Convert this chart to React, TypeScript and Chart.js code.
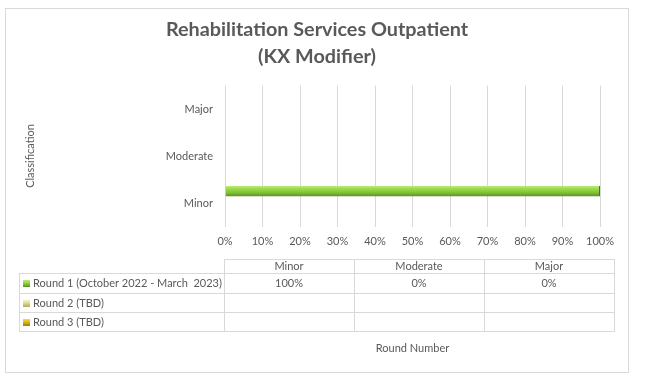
import React, { useEffect, useRef } from 'react';
import { Chart, registerables } from 'chart.js';

Chart.register(...registerables);

// ---------- data ----------
const categories = ['Minor', 'Moderate', 'Major'];
const seriesNames = ['Round 1 (October 2022 - March  2023)', 'Round 2 (TBD)', 'Round 3 (TBD)'];
const round1: (number | null)[] = [100, 0, 0];
const round2: (number | null)[] = [null, null, null];
const round3: (number | null)[] = [null, null, null];
const xTickValues = [0, 10, 20, 30, 40, 50, 60, 70, 80, 90, 100];
const titleLines = ['Rehabilitation Services Outpatient', '(KX Modifier)'];
const yTitle = 'Classification';
const xTitle = 'Round Number';

// ---------- styles ----------
const TEXT = '#595959';
const GRID = '#d9d9d9';
const FONT = 'Lato';
const CAT_PCT = 0.745;
const BAR_PCT = 0.9;
const seriesStops = [
  ['#b8ec74', '#98d848', '#7fbf35', '#5a8c22'],
  ['#f4f2c0', '#e6e2a0', '#d6d07c', '#b8b05a'],
  ['#f8dc60', '#e8c020', '#d2a800', '#a88400'],
];
const seriesBase = ['#8cc63f', '#e0dc8c', '#d4a800'];

const W = 646;
const H = 390;
const colX = [19, 224, 354, 484, 614];
const rowY = [259, 273, 293, 312, 331];

function barGradient(ctx: any, di: number) {
  const chart = ctx.chart;
  const y = chart.scales && chart.scales.y;
  if (!chart.chartArea || !y || ctx.type !== 'data') return seriesBase[di];
  const c = y.getPixelForValue(ctx.dataIndex);
  const band = Math.abs(y.getPixelForValue(1) - y.getPixelForValue(0));
  const size = band * CAT_PCT;
  const chunk = size / 3;
  const center = c - size / 2 + chunk * di + chunk / 2;
  const th = chunk * BAR_PCT;
  const g = chart.ctx.createLinearGradient(0, center - th / 2, 0, center + th / 2);
  const s = seriesStops[di];
  g.addColorStop(0, s[0]);
  g.addColorStop(0.3, s[1]);
  g.addColorStop(0.65, s[2]);
  g.addColorStop(1, s[3]);
  return g;
}

const decor = {
  id: 'decor',
  beforeDraw(chart: any) {
    const ctx = chart.ctx;
    ctx.save();
    ctx.fillStyle = '#ffffff';
    ctx.fillRect(0, 0, W, H);
    ctx.restore();
  },
  afterDraw(chart: any) {
    const ctx = chart.ctx;
    ctx.save();
    // frame
    ctx.strokeStyle = GRID;
    ctx.lineWidth = 1;
    ctx.strokeRect(5.5, 8.5, 623, 364);

    // title
    ctx.fillStyle = TEXT;
    ctx.font = `bold 19.8px ${FONT}`;
    ctx.textAlign = 'center';
    ctx.textBaseline = 'middle';
    ctx.fillText(titleLines[0], 317, 30);
    ctx.fillText(titleLines[1], 317, 57);

    // table lines
    ctx.strokeStyle = GRID;
    ctx.beginPath();
    ctx.moveTo(colX[1], rowY[0] + 0.5);
    ctx.lineTo(colX[4] + 1, rowY[0] + 0.5);
    for (let r = 1; r < rowY.length; r++) {
      ctx.moveTo(colX[0], rowY[r] + 0.5);
      ctx.lineTo(colX[4] + 1, rowY[r] + 0.5);
    }
    ctx.moveTo(colX[0] + 0.5, rowY[1]);
    ctx.lineTo(colX[0] + 0.5, rowY[4] + 1);
    for (let c = 1; c < colX.length; c++) {
      ctx.moveTo(colX[c] + 0.5, rowY[0]);
      ctx.lineTo(colX[c] + 0.5, rowY[4] + 1);
    }
    ctx.stroke();

    // header
    ctx.fillStyle = TEXT;
    ctx.font = `11px ${FONT}`;
    ctx.textAlign = 'center';
    ctx.textBaseline = 'middle';
    categories.forEach((cat, i) => {
      ctx.fillText(cat, (colX[i + 1] + colX[i + 2]) / 2, (rowY[0] + rowY[1]) / 2 + 0.5);
    });

    const rows = [round1, round2, round3];
    rows.forEach((vals, r) => {
      const cy = (rowY[r + 1] + rowY[r + 2]) / 2 + 0.5;
      const g = ctx.createLinearGradient(0, cy - 3.5, 0, cy + 3.5);
      const s = seriesStops[r];
      g.addColorStop(0, s[0]);
      g.addColorStop(0.4, s[1]);
      g.addColorStop(1, s[3]);
      ctx.fillStyle = g;
      ctx.fillRect(23, Math.round(cy - 3.5), 7, 7);
      ctx.fillStyle = TEXT;
      ctx.textAlign = 'left';
      ctx.fillText(seriesNames[r], 33, cy);
      ctx.textAlign = 'center';
      vals.forEach((v, i) => {
        if (v === null || v === undefined) return;
        ctx.fillText(`${v}%`, (colX[i + 1] + colX[i + 2]) / 2, cy);
      });
    });
    ctx.restore();
  },
};

export default function App() {
  const ref = useRef<HTMLCanvasElement | null>(null);
  useEffect(() => {
    if (!ref.current) return;
    const datasets = [round1, round2, round3].map((d, i) => ({
      label: seriesNames[i],
      data: d,
      backgroundColor: (ctx: any) => barGradient(ctx, i),
      borderColor: '#4a7818',
      borderWidth: { top: 0, bottom: 0, left: 0, right: 1 },
      borderSkipped: false as any,
      categoryPercentage: CAT_PCT,
      barPercentage: BAR_PCT,
    }));
    const chart = new Chart(ref.current, {
      type: 'bar',
      data: { labels: categories, datasets },
      plugins: [decor],
      options: {
        indexAxis: 'y',
        responsive: false,
        animation: false,
        devicePixelRatio: 1,
        layout: { padding: { left: 5, right: 46, top: 85.5, bottom: 17 } },
        plugins: {
          legend: { display: false },
          title: { display: false },
          tooltip: { enabled: false },
        },
        scales: {
          x: {
            min: 0,
            max: 100,
            afterBuildTicks: (scale: any) => {
              scale.ticks = xTickValues.map((v) => ({ value: v }));
            },
            afterFit: (scale: any) => {
              scale.height = 146.5;
            },
            grid: { color: GRID, lineWidth: 1, drawTicks: false },
            border: { display: false },
            ticks: {
              padding: 8,
              color: TEXT,
              font: { family: FONT, size: 11 },
              callback: (v: any) => `${v}%`,
              maxRotation: 0,
            },
            title: {
              display: true,
              text: xTitle,
              color: TEXT,
              font: { family: FONT, size: 11 },
              padding: { top: 0, bottom: 18.4 },
            },
          },
          y: {
            reverse: true,
            afterFit: (scale: any) => {
              scale.width = 220;
            },
            grid: { display: false },
            border: { display: false },
            ticks: {
              padding: 4,
              color: TEXT,
              font: { family: FONT, size: 11 },
            },
            title: {
              display: true,
              text: yTitle,
              color: TEXT,
              font: { family: FONT, size: 11 },
              padding: { top: 18.4, bottom: 0 },
            },
          },
        },
      },
    });
    return () => chart.destroy();
  }, []);
  return (
    <div style={{ position: 'absolute', left: 0, top: 0, width: W, height: H, background: '#fff' }}>
      <canvas ref={ref} width={W} height={H} style={{ width: W, height: H, display: 'block' }} />
    </div>
  );
}
